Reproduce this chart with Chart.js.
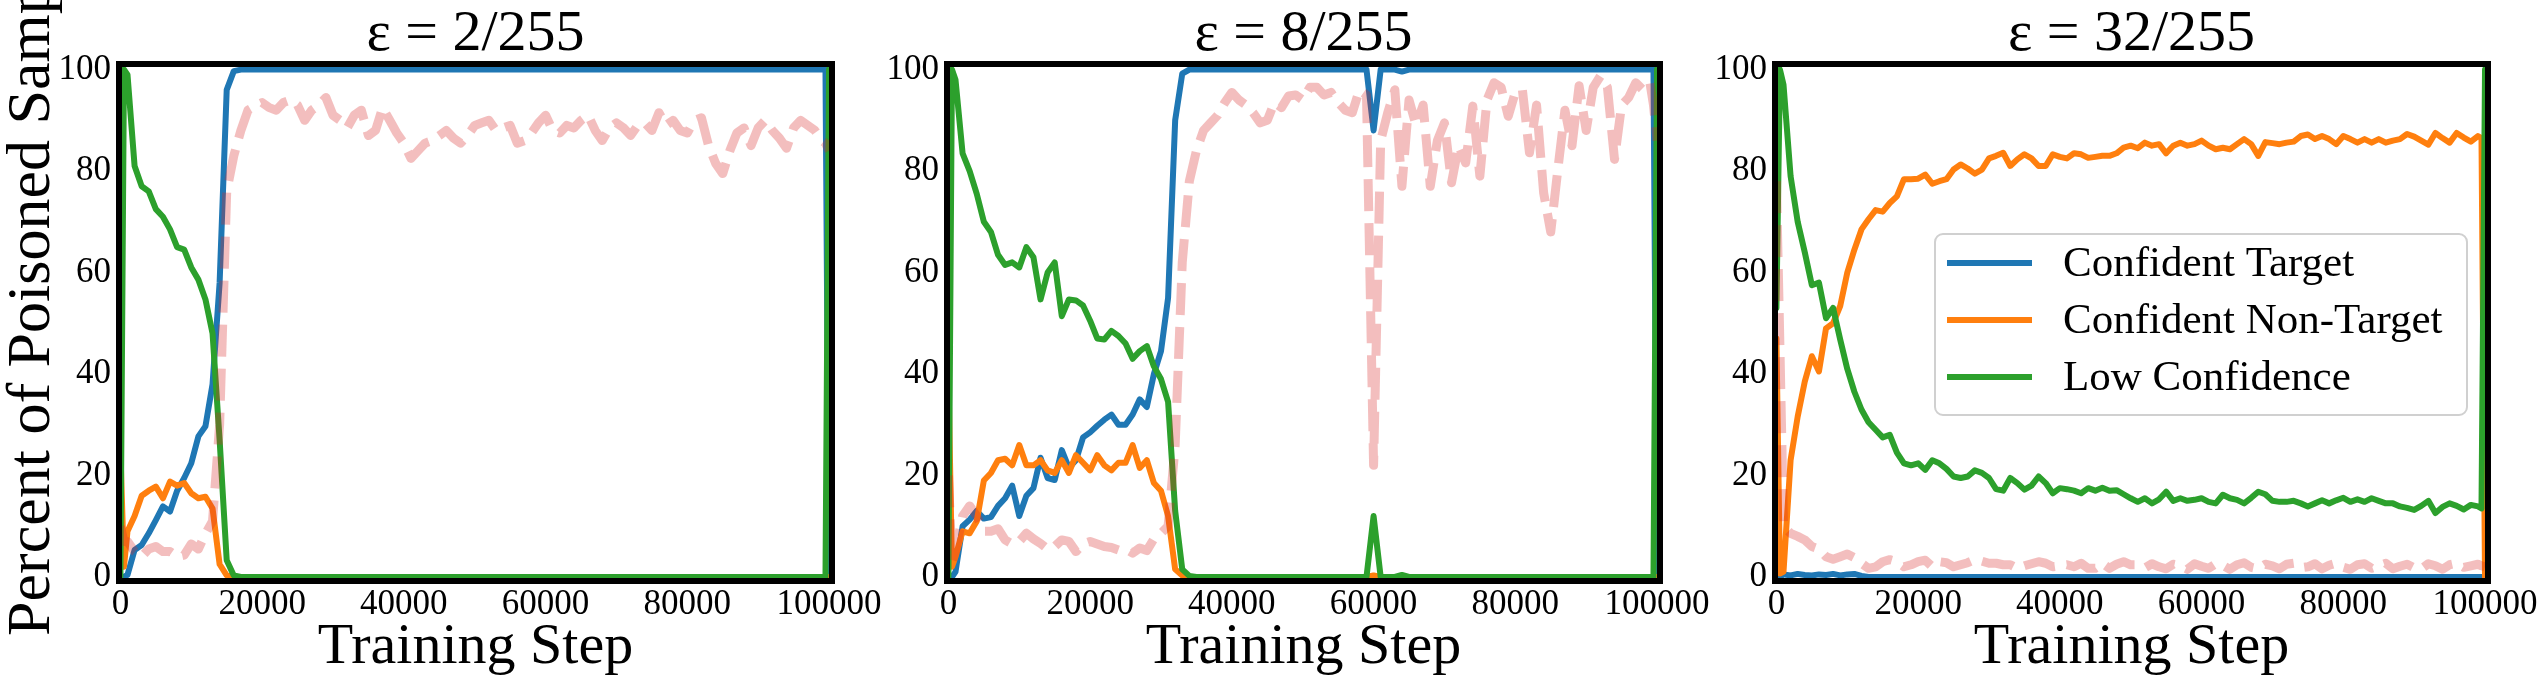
<!DOCTYPE html>
<html lang="en">
<head>
    <meta charset="UTF-8">
    <title>Poisoned samples during training</title>
    <script src="https://cdn.jsdelivr.net/npm/chart.js@4"></script>
    <style>
        body {
            margin: 0;
            background: #fff;
        }
        .wrap {
            position: relative;
            width: 2547px;
            height: 681px;
        }
        .wrap canvas {
            position: absolute;
            left: 0;
            top: 0;
        }
    </style>
</head>
<body>
<div class="wrap">
    <canvas id="c0" width="2547" height="681"></canvas>
    <canvas id="c1" width="2547" height="681"></canvas>
    <canvas id="c2" width="2547" height="681"></canvas>
</div>
<script>
// training steps (logged every 1000 steps, plus the first and last half-steps)
const steps = [0, 500,
    1000, 2000, 3000, 4000, 5000, 6000, 7000, 8000, 9000, 10000,
    11000, 12000, 13000, 14000, 15000, 16000, 17000, 18000, 19000, 20000,
    21000, 22000, 23000, 24000, 25000, 26000, 27000, 28000, 29000, 30000,
    31000, 32000, 33000, 34000, 35000, 36000, 37000, 38000, 39000, 40000,
    41000, 42000, 43000, 44000, 45000, 46000, 47000, 48000, 49000, 50000,
    51000, 52000, 53000, 54000, 55000, 56000, 57000, 58000, 59000, 60000,
    61000, 62000, 63000, 64000, 65000, 66000, 67000, 68000, 69000, 70000,
    71000, 72000, 73000, 74000, 75000, 76000, 77000, 78000, 79000, 80000,
    81000, 82000, 83000, 84000, 85000, 86000, 87000, 88000, 89000, 90000,
    91000, 92000, 93000, 94000, 95000, 96000, 97000, 98000, 99000,
    99500, 100000];

const xTicks = [0, 20000, 40000, 60000, 80000, 100000];
const yTicks = [0, 20, 40, 60, 80, 100];
const panelTitles = ['ε = 2/255', 'ε = 8/255', 'ε = 32/255'];
const seriesNames = ['Confident Target', 'Confident Non-Target', 'Low Confidence'];
const seriesColors = ['#1f77b4', '#ff7f0e', '#2ca02c'];

// ---- eps = 2/255 ----
const target2 = [0, 0, 0.4, 5.3, 6.3, 8.6, 11.2, 13.9, 12.9, 17, 19.5, 22.4, 27.7, 29.7, 38, 58, 96, 99.7,
    100, 100, 100, 100, 100, 100, 100, 100, 100, 100,
    100, 100, 100, 100, 100, 100, 100, 100, 100, 100,
    100, 100, 100, 100, 100, 100, 100, 100, 100, 100,
    100, 100, 100, 100, 100, 100, 100, 100, 100, 100,
    100, 100, 100, 100, 100, 100, 100, 100, 100, 100,
    100, 100, 100, 100, 100, 100, 100, 100, 100, 100,
    100, 100, 100, 100, 100, 100, 100, 100, 100, 100,
    100, 100, 100, 100, 100, 100, 100, 100, 100, 100,
    100, 100, 100,
    100, 0];
const nonTarget2 = [25, 2, 9, 12, 16, 17, 17.8, 15.5, 18.8, 18, 18.5, 16.5, 15.5, 15.8, 13.5, 2.5, 0.3, 0,
    0, 0, 0, 0, 0, 0, 0, 0, 0, 0,
    0, 0, 0, 0, 0, 0, 0, 0, 0, 0,
    0, 0, 0, 0, 0, 0, 0, 0, 0, 0,
    0, 0, 0, 0, 0, 0, 0, 0, 0, 0,
    0, 0, 0, 0, 0, 0, 0, 0, 0, 0,
    0, 0, 0, 0, 0, 0, 0, 0, 0, 0,
    0, 0, 0, 0, 0, 0, 0, 0, 0, 0,
    0, 0, 0, 0, 0, 0, 0, 0, 0, 0,
    0, 0, 0,
    0, 0];
const lowConf2 = [0, 100, 99, 81, 77, 76, 72.5, 71, 68.5, 65, 64.5, 61, 58.6, 54.7, 48, 27, 3.3, 0.3,
    0, 0, 0, 0, 0, 0, 0, 0, 0, 0,
    0, 0, 0, 0, 0, 0, 0, 0, 0, 0,
    0, 0, 0, 0, 0, 0, 0, 0, 0, 0,
    0, 0, 0, 0, 0, 0, 0, 0, 0, 0,
    0, 0, 0, 0, 0, 0, 0, 0, 0, 0,
    0, 0, 0, 0, 0, 0, 0, 0, 0, 0,
    0, 0, 0, 0, 0, 0, 0, 0, 0, 0,
    0, 0, 0, 0, 0, 0, 0, 0, 0, 0,
    0, 0, 0,
    0, 100];
const dashed2 = [10, 7,
    7, 5, 4, 5.5, 6, 5, 5, 4, 4.3, 6.5,
    5.5, 8.5, 11, 30, 76, 83, 88, 92, 92.8, 93.5,
    92.5, 92, 93.5, 94, 93, 90, 92, 93, 94.5, 91,
    90, 88.5, 91, 92, 87, 88, 92.5, 90, 87.5, 85.5,
    82.5, 84, 85.5, 86, 87, 88, 86.5, 85.5, 87, 89,
    89.5, 90, 88, 88.5, 89, 85.5, 86, 87.5, 89.5, 91,
    88, 87.5, 89, 88.5, 90, 91, 88, 86, 88.5, 89.5,
    88.5, 87, 89, 89.5, 88, 91.5, 89, 90, 88, 87.5,
    90, 90.5, 85, 81.5, 79.5, 84, 87.5, 88.5, 85, 88.5,
    90, 88, 86.5, 84.5, 88.5, 90, 89, 88, 86,
    85.5, 84];

// ---- eps = 8/255 ----
const target8 = [0, 0,
    1, 10, 11.3, 13, 11.5, 11.8, 14, 15.5, 18, 12,
    16, 17.5, 23.5, 19.5, 19.1, 25, 21.5, 23, 27.5, 28.5,
    29.8, 31, 32, 30, 30, 32, 35, 33.5, 40, 44.5,
    55, 90, 99.2, 100, 100, 100, 100, 100, 100, 100,
    100, 100, 100, 100, 100, 100, 100, 100, 100, 100,
    100, 100, 100, 100, 100, 100, 100, 100, 100, 88,
    100, 100, 100, 99.6, 100, 100, 100, 100, 100, 100,
    100, 100, 100, 100, 100, 100, 100, 100, 100, 100,
    100, 100, 100, 100, 100, 100, 100, 100, 100, 100,
    100, 100, 100, 100, 100, 100, 100, 100, 100,
    100, 0];
const nonTarget8 = [40, 2,
    4, 9, 8.6, 11, 19, 20.5, 23, 23.3, 22, 26,
    22, 22, 23, 21, 20.5, 23, 20.5, 24, 22.5, 21,
    24, 22, 21, 22.5, 22.5, 26, 21.5, 23, 18.5, 17,
    12, 1.5, 0.3, 0, 0, 0, 0, 0, 0, 0,
    0, 0, 0, 0, 0, 0, 0, 0, 0, 0,
    0, 0, 0, 0, 0, 0, 0, 0, 0, 0.3,
    0, 0, 0, 0, 0, 0, 0, 0, 0, 0,
    0, 0, 0, 0, 0, 0, 0, 0, 0, 0,
    0, 0, 0, 0, 0, 0, 0, 0, 0, 0,
    0, 0, 0, 0, 0, 0, 0, 0, 0,
    0, 0];
const lowConf8 = [0, 100,
    98, 83.5, 80, 75.5, 70, 68, 63.5, 61.5, 62, 61,
    65, 63, 54.7, 60, 62, 51.4, 54.7, 54.5, 53.5, 50.5,
    47, 46.8, 48.5, 47.5, 46, 43, 44.5, 45.5, 41.5, 39,
    34.5, 13, 1.5, 0.2, 0, 0, 0, 0, 0, 0,
    0, 0, 0, 0, 0, 0, 0, 0, 0, 0,
    0, 0, 0, 0, 0, 0, 0, 0, 0, 12,
    0, 0, 0, 0.4, 0, 0, 0, 0, 0, 0,
    0, 0, 0, 0, 0, 0, 0, 0, 0, 0,
    0, 0, 0, 0, 0, 0, 0, 0, 0, 0,
    0, 0, 0, 0, 0, 0, 0, 0, 0,
    0, 100];
const dashed8 = [20, 3,
    5, 12, 14, 12, 9, 9, 9.5, 7.3, 6.5, 7,
    8.6, 7.5, 6.6, 5.5, 6, 7.3, 7, 5, 6.5, 7,
    6.5, 6, 5.8, 5.3, 5.5, 4.7, 5.7, 5.2, 7.5, 8.6,
    10, 26, 62, 78, 84, 88, 89.5, 91, 93.5, 95.5,
    94, 93, 91.5, 89.5, 90, 93.5, 92.5, 94.8, 95, 94,
    96.5, 96.5, 95, 95.5, 93.5, 92, 91.5, 96, 95, 22,
    86, 91.5, 96, 77, 94, 89, 93, 77, 86, 89.5,
    77.7, 85, 81.6, 92.8, 79, 94, 97.4, 96.5, 90.8, 95.5,
    96, 83.6, 93, 75.7, 68, 80.3, 92, 85, 96.8, 88,
    96.5, 98.7, 96.5, 82.3, 93, 94.5, 97.4, 96, 97.4,
    93, 86];

// ---- eps = 32/255 ----
const target32 = [0, 0,
    0.5, 0.3, 0.6, 0.4, 0.3, 0.5, 0.4, 0.6, 0.3, 0.5,
    0.6, 0.2, 0, 0, 0, 0, 0, 0, 0, 0,
    0, 0, 0, 0, 0, 0, 0, 0, 0, 0,
    0, 0, 0, 0, 0, 0, 0, 0, 0, 0,
    0, 0, 0, 0, 0, 0, 0, 0, 0, 0,
    0, 0, 0, 0, 0, 0, 0, 0, 0, 0,
    0, 0, 0, 0, 0, 0, 0, 0, 0, 0,
    0, 0, 0, 0, 0, 0, 0, 0, 0, 0,
    0, 0, 0, 0, 0, 0, 0, 0, 0, 0,
    0, 0, 0, 0, 0, 0, 0, 0, 0,
    0, 0];
const nonTarget32 = [47, 0.7,
    1, 23, 31.6, 38.5, 43.5, 40.5, 49, 50, 53.4, 60,
    64.5, 68.5, 70.5, 72.3, 72, 73.7, 75, 78.4, 78.4, 78.5,
    79.3, 77.5, 78, 78.4, 80.3, 81.3, 80.5, 79.5, 80.3, 82.5,
    83, 83.6, 81, 82.3, 83.3, 82.5, 81, 81, 83.3, 82.8,
    82.5, 83.5, 83.3, 82.6, 82.8, 83, 83, 83.5, 84.6, 85,
    84.5, 85.6, 85, 85.3, 83.5, 85, 85.6, 85, 85.3, 86,
    85, 84.3, 84.6, 84.3, 85.3, 86.3, 85.3, 83, 85.7, 85.5,
    85.3, 85.6, 85.8, 86.9, 87.2, 86.3, 86.9, 86.3, 85.3, 86.9,
    86.3, 85.6, 86.3, 85.6, 86.3, 85.6, 86, 86.3, 87.3, 86.8,
    86, 85.2, 87.5, 86.5, 85.6, 87.5, 86.6, 85.8, 86.9,
    86.5, 0];
const lowConf32 = [53, 100,
    97, 79, 70, 64, 57.5, 58, 51, 53, 46.8, 41,
    36.5, 33, 30.5, 29, 27.5, 28, 24.5, 22.4, 22, 22.4,
    21.1, 23, 22.4, 21.3, 19.8, 19.5, 19.8, 21, 20.5, 19.5,
    17.3, 17, 19.5, 18.5, 17.2, 18, 19.8, 18.5, 16.5, 17.5,
    17.3, 17, 16.5, 17.5, 17, 17.6, 17, 17.1, 16.3, 15.5,
    14.8, 15.5, 14.5, 15.3, 16.8, 15, 15.5, 15, 15.2, 15.5,
    14.8, 14.5, 16.2, 15.5, 15.2, 14.5, 15.6, 16.8, 16.3, 15,
    14.8, 14.8, 15, 14.5, 13.9, 14.5, 15.1, 14.5, 15.1, 15.6,
    14.8, 15.3, 14.8, 15.5, 15, 14.5, 14.5, 13.9, 13.6, 13.2,
    14, 15, 12.6, 13.8, 14.5, 14, 13.3, 14.2, 13.9,
    13.5, 100];
const dashed32 = [78, 45,
    10, 8.6, 8, 7.3, 6, 5.5, 4, 3.5, 4, 4.5,
    3.8, 2.7, 1.7, 2, 3, 3.4, 3, 2, 2.4, 3,
    3.3, 2, 3, 2.8, 2, 2.4, 2.8, 3.4, 3.1, 2.7,
    2.7, 2.4, 2.4, 1.7, 2.2, 2.6, 3, 2.7, 2, 2.2,
    2.4, 2, 2.7, 1.7, 1.7, 2.7, 1.7, 2.5, 3, 2.4,
    2.4, 1.8, 2.6, 2, 1.6, 2.5, 2.2, 1.5, 2.6, 2.1,
    1.7, 2.6, 2.3, 1.5, 2.4, 2.8, 1.9, 1.6, 2.5, 2.2,
    1.6, 2.5, 2.7, 1.8, 2, 2.6, 1.6, 2.3, 2.7, 1.9,
    1.5, 2.4, 2.6, 1.7, 2.2, 2.7, 1.6, 2.1, 2.5, 1.8,
    1.6, 2.6, 2.2, 1.5, 2.4, 2.7, 1.9, 2.2, 2.5,
    2.2, 2];

Chart.defaults.font.family = "'Liberation Serif', 'Times New Roman', serif";
Chart.defaults.color = '#000';

function points(values) {
    return steps.map((s, i) => ({ x: s, y: values[i] }));
}

// thick black box around each plot
const framePlugin = {
    id: 'frame',
    afterDatasetsDraw(chart) {
        const a = chart.chartArea;
        const ctx = chart.ctx;
        ctx.save();
        ctx.lineWidth = 6;
        ctx.strokeStyle = '#000';
        ctx.strokeRect(a.left, a.top, a.right - a.left, a.bottom - a.top);
        ctx.restore();
    }
};

// shared y label, only on the first panel (runs off the top like the original)
const yLabelPlugin = {
    id: 'ylabel',
    afterDraw(chart) {
        const ctx = chart.ctx;
        ctx.save();
        ctx.translate(49, 636);
        ctx.rotate(-Math.PI / 2);
        ctx.font = "62px 'Liberation Serif', serif";
        ctx.fillStyle = '#000';
        ctx.textAlign = 'left';
        ctx.textBaseline = 'alphabetic';
        ctx.fillText('Percent of Poisoned Samples', 0, 0);
        ctx.restore();
    }
};

// legend box inside the last panel
const legendPlugin = {
    id: 'boxLegend',
    afterDraw(chart) {
        const a = chart.chartArea;
        const ctx = chart.ctx;
        const x = a.left + 160, y = a.top + 170, w = 532, h = 181, r = 8;
        ctx.save();
        ctx.beginPath();
        ctx.roundRect(x, y, w, h, r);
        ctx.fillStyle = 'rgba(255,255,255,0.8)';
        ctx.fill();
        ctx.lineWidth = 2;
        ctx.strokeStyle = '#d0d0d0';
        ctx.stroke();
        ctx.font = "43px 'Liberation Serif', serif";
        ctx.textBaseline = 'middle';
        ctx.fillStyle = '#000';
        seriesNames.forEach((name, i) => {
            const cy = y + 29 + i * 57;
            ctx.beginPath();
            ctx.moveTo(x + 12, cy);
            ctx.lineTo(x + 97, cy);
            ctx.lineWidth = 6;
            ctx.strokeStyle = seriesColors[i];
            ctx.stroke();
            ctx.fillText(name, x + 128, cy + 2);
        });
        ctx.restore();
    }
};

function makePanel(p, target, nonTarget, lowConf, dashed) {
    const plotLeft = 119 + 828 * p;
    const plotRight = 832 + 828 * p;
    const yAxisWidth = 80;
    const plugins = [framePlugin];
    if (p === 0) plugins.push(yLabelPlugin);
    if (p === 2) plugins.push(legendPlugin);

    const solid = (label, values, color, order) => ({
        label: label,
        data: points(values),
        borderColor: color,
        borderWidth: 6,
        pointRadius: 0,
        tension: 0,
        fill: false,
        borderJoinStyle: 'round',
        borderCapStyle: 'round',
        order: order
    });

    new Chart(document.getElementById('c' + p), {
        type: 'line',
        data: {
            datasets: [
                solid(seriesNames[0], target, seriesColors[0], 4),
                solid(seriesNames[1], nonTarget, seriesColors[1], 3),
                solid(seriesNames[2], lowConf, seriesColors[2], 2),
                {
                    label: 'dashed',
                    data: points(dashed),
                    borderColor: 'rgba(214,39,40,0.3)',
                    borderWidth: 9,
                    borderDash: [32, 12],
                    borderCapStyle: 'butt',
                    borderJoinStyle: 'round',
                    pointRadius: 0,
                    tension: 0,
                    fill: false,
                    order: 1
                }
            ]
        },
        options: {
            responsive: false,
            animation: false,
            events: [],
            layout: {
                padding: { left: plotLeft - yAxisWidth, right: 2547 - plotRight, top: 0, bottom: 0 }
            },
            plugins: {
                legend: { display: false },
                tooltip: { enabled: false },
                title: {
                    display: true,
                    text: panelTitles[p],
                    fullSize: false,
                    font: { size: 58, weight: 'normal', lineHeight: 1 },
                    padding: { top: 6, bottom: 0 },
                    color: '#000'
                }
            },
            scales: {
                x: {
                    type: 'linear',
                    min: -200,
                    max: 100420,
                    grid: { display: false, drawTicks: false },
                    border: { display: false },
                    ticks: {
                        font: { size: 35, lineHeight: 1 },
                        padding: 6,
                        maxRotation: 0,
                        callback: v => String(v)
                    },
                    title: {
                        display: true,
                        text: 'Training Step',
                        font: { size: 58, lineHeight: 1 },
                        padding: { top: 0, bottom: 4 }
                    },
                    afterBuildTicks: s => { s.ticks = xTicks.map(v => ({ value: v })); },
                    afterFit: s => { s.height = 100; s.paddingLeft = 0; s.paddingRight = 0; }
                },
                y: {
                    min: -0.8,
                    max: 101.1,
                    grid: { display: false, drawTicks: false },
                    border: { display: false },
                    ticks: {
                        font: { size: 35 },
                        padding: 8,
                        callback: v => String(v)
                    },
                    afterBuildTicks: s => { s.ticks = yTicks.map(v => ({ value: v })); },
                    afterFit: s => { s.width = yAxisWidth; s.paddingTop = 0; s.paddingBottom = 0; }
                }
            }
        },
        plugins: plugins
    });
}

makePanel(0, target2, nonTarget2, lowConf2, dashed2);
makePanel(1, target8, nonTarget8, lowConf8, dashed8);
makePanel(2, target32, nonTarget32, lowConf32, dashed32);
</script>
</body>
</html>
